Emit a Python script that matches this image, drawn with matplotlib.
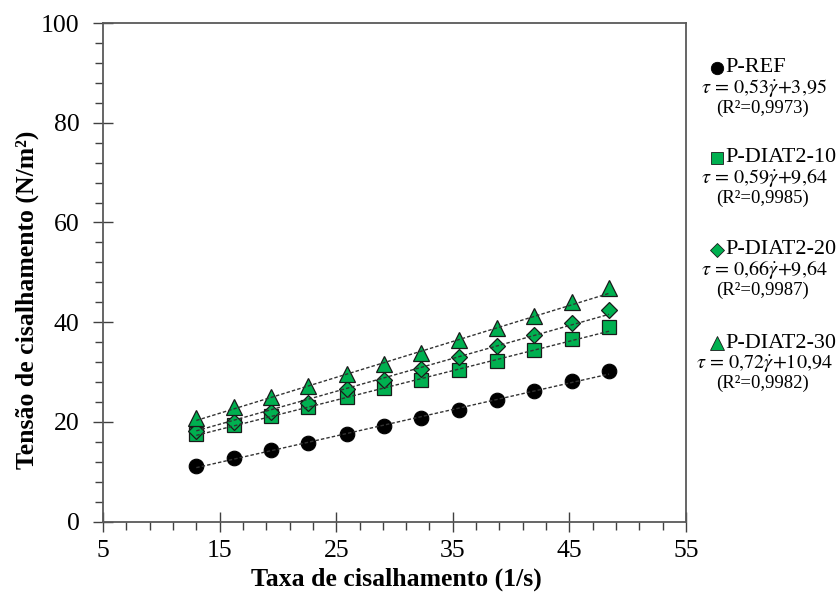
import matplotlib
matplotlib.use("Agg")
import matplotlib.pyplot as plt
from matplotlib.lines import Line2D
from matplotlib.ticker import MultipleLocator

plt.rcParams['font.family'] = ['Liberation Serif', 'DejaVu Serif']
plt.rcParams['mathtext.fontset'] = 'stix'

# Shear rate (1/s)
shear_rate = [13.0, 16.2, 19.4, 22.6, 25.9, 29.1, 32.3, 35.5, 38.8, 42.0, 45.2, 48.4]

# Shear stress (N/m²) per paste
p_ref = [11.2, 12.7, 14.4, 15.8, 17.6, 19.1, 20.8, 22.4, 24.5, 26.3, 28.3, 30.3]
p_diat2_10 = [17.5, 19.4, 21.2, 23.0, 25.1, 26.8, 28.5, 30.4, 32.3, 34.4, 36.6, 39.0]
p_diat2_20 = [18.2, 20.0, 21.9, 23.9, 26.6, 28.5, 30.6, 33.1, 35.2, 37.5, 39.8, 42.4]
p_diat2_30 = [20.8, 22.9, 25.1, 27.2, 29.6, 31.7, 33.9, 36.4, 38.8, 41.2, 44.0, 46.8]

labels = ['P-REF', 'P-DIAT2-10', 'P-DIAT2-20', 'P-DIAT2-30']
slopes = [0.53, 0.59, 0.66, 0.72]
intercepts = [3.95, 9.64, 9.64, 10.94]
slope_txt = ['0,53', '0,59', '0,66', '0,72']
intercept_txt = ['3,95', '9,64', '9,64', '10,94']
r2_txt = ['0,9973', '0,9985', '0,9987', '0,9982']

series = [p_ref, p_diat2_10, p_diat2_20, p_diat2_30]
green = '#00B050'
styles = [
    dict(marker='o', ms=10.5, mfc='black', mec='black', mew=0.8),
    dict(marker='s', ms=9.5, mfc=green, mec='#1a1a1a', mew=0.9),
    dict(marker='D', ms=8.0, mfc=green, mec='#1a1a1a', mew=0.9),
    dict(marker='^', ms=11.5, mfc=green, mec='#1a1a1a', mew=0.9),
]

W, H = 838, 597
fig = plt.figure(figsize=(W / 100, H / 100), dpi=100)
ax = fig.add_axes([103 / W, 1 - 521.7 / H, (686 - 103) / W, (521.7 - 23) / H])

for ys, st in zip(series, styles):
    ax.plot(shear_rate, ys, linestyle='none', zorder=3, clip_on=False, **st)

# Linear trendlines from the fitted equations
x0, x1 = shear_rate[0], shear_rate[-1]
for a, b in zip(slopes, intercepts):
    ax.plot([x0, x1], [a * x0 + b, a * x1 + b], color='#333333', lw=1.0,
            linestyle=(0, (2.5, 1.5)), zorder=4)

ax.set_xlim(5, 55)
ax.set_ylim(0, 100)
ax.xaxis.set_major_locator(MultipleLocator(10, offset=5))
ax.xaxis.set_minor_locator(MultipleLocator(2, offset=1))
ax.yaxis.set_major_locator(MultipleLocator(20))
ax.yaxis.set_minor_locator(MultipleLocator(4))

for sp in ax.spines.values():
    sp.set_color('#595959')
    sp.set_linewidth(1.3)

ax.tick_params(which='major', direction='inout', length=14, width=1.0, color='#404040',
               labelsize=18.5)
ax.tick_params(which='minor', direction='out', length=6, width=1.0, color='#404040')
ax.tick_params(axis='y', which='major', pad=10)
ax.tick_params(axis='x', which='major', pad=6)

fig.text(396 / W, 1 - 579 / H, 'Taxa de cisalhamento (1/s)', fontsize=18.5,
         fontweight='bold', ha='center', va='center')
fig.text(27 / W, 1 - 300 / H, 'Tensão de cisalhamento (N/m²)', fontsize=18.5,
         fontweight='bold', ha='center', va='center', rotation=90)

# Legend column with fitted equations
head_y = [68, 158, 250, 343]
for i in range(4):
    y = head_y[i]
    st = styles[i]
    fig.add_artist(Line2D([717 / W], [1 - y / H], transform=fig.transFigure,
                          marker=st['marker'], ms=st['ms'] * 0.85, mfc=st['mfc'],
                          mec=st['mec'], mew=0.6, linestyle='none'))
    fig.text(725 / W, 1 - y / H, labels[i], fontsize=16, ha='left', va='center')
    eq = r'$\tau\,=\,%s\dot{\gamma}{+}%s$' % (slope_txt[i].replace(',', '{,}'),
                                             intercept_txt[i].replace(',', '{,}'))
    fig.text(764 / W, 1 - (y + 20) / H, eq, fontsize=14.5, ha='center', va='center')
    fig.text(762 / W, 1 - (y + 40) / H, '(R²=%s)' % r2_txt[i], fontsize=13.5,
             ha='center', va='center')

fig.savefig('out.png', dpi=100)
